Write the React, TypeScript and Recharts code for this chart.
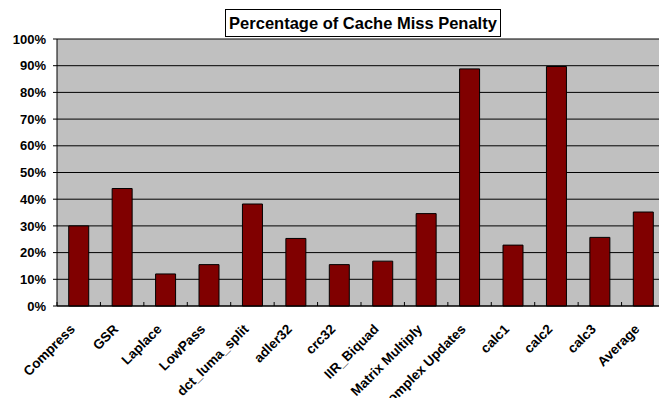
import { BarChart, Bar, XAxis, YAxis, CartesianGrid } from 'recharts'

const categories = [
    'Compress',
    'GSR',
    'Laplace',
    'LowPass',
    'dct_luma_split',
    'adler32',
    'crc32',
    'IIR_Biquad',
    'Matrix Multiply',
    'Complex Updates',
    'calc1',
    'calc2',
    'calc3',
    'Average'
]
const missPenalty = [0.3, 0.44, 0.12, 0.155, 0.382, 0.253, 0.155, 0.168, 0.346, 0.888, 0.228, 0.897, 0.257, 0.352]
const percentTicks = [0, 0.1, 0.2, 0.3, 0.4, 0.5, 0.6, 0.7, 0.8, 0.9, 1]
const chartTitle = 'Percentage of Cache Miss Penalty'

const FONT = '"Liberation Sans", Arial, sans-serif'

const chartData = categories.map((name, i) => ({ name, value: missPenalty[i] }))

// category label rotated 45deg, plus a short tick on the band boundary (pointing into the plot)
function CategoryTick(props: any) {
    const { x, y, payload, index, width, visibleTicksCount } = props
    const count = visibleTicksCount || categories.length
    const band = (width || 608) / count
    const left = x - band / 2
    const lx = x - 3
    const ly = y + 24
    return (
        <g>
            <line x1={left} y1={y - 4} x2={left} y2={y} stroke="#000" />
            {index === count - 1 && (
                <line x1={left + band} y1={y - 4} x2={left + band} y2={y} stroke="#000" />
            )}
            <text
                x={lx}
                y={ly}
                transform={`rotate(-45 ${lx} ${ly})`}
                textAnchor="end"
                fontFamily={FONT}
                fontWeight="bold"
                fontSize={13.5}
                fill="#000"
            >
                {payload.value}
            </text>
        </g>
    )
}

export default function App() {
    return (
        <div style={{ position: 'relative', width: 667, height: 406, background: '#fff', margin: -8 }}>
            <BarChart
                width={667}
                height={406}
                data={chartData}
                margin={{ top: 39, right: 2, left: 0, bottom: 0 }}
                barCategoryGap="27%"
            >
                <CartesianGrid vertical={false} stroke="#000" fill="#C0C0C0" />
                <XAxis
                    dataKey="name"
                    height={100}
                    interval={0}
                    tickLine={false}
                    tickSize={0}
                    tickMargin={0}
                    axisLine={{ stroke: '#000' }}
                    tick={<CategoryTick />}
                />
                <XAxis
                    xAxisId="frame"
                    orientation="top"
                    height={0}
                    tick={false}
                    tickLine={false}
                    axisLine={{ stroke: '#808080' }}
                />
                <YAxis
                    width={57}
                    domain={[0, 1]}
                    ticks={percentTicks}
                    interval={0}
                    tickFormatter={(v: number) => `${Math.round(v * 100)}%`}
                    tickSize={4}
                    tickMargin={7}
                    tickLine={{ stroke: '#000' }}
                    axisLine={{ stroke: '#000' }}
                    tick={{ fill: '#000', fontFamily: FONT, fontWeight: 'bold', fontSize: 13 }}
                />
                <YAxis
                    yAxisId="frame"
                    orientation="right"
                    width={0}
                    tick={false}
                    tickLine={false}
                    axisLine={{ stroke: '#808080' }}
                />
                <Bar dataKey="value" fill="#800000" stroke="#000" strokeWidth={1} isAnimationActive={false} />
            </BarChart>
            <div
                style={{
                    position: 'absolute',
                    left: 225,
                    top: 9,
                    width: 276,
                    height: 28,
                    boxSizing: 'border-box',
                    border: '1px solid #000',
                    background: '#fff',
                    fontFamily: FONT,
                    fontWeight: 'bold',
                    fontSize: 16.5,
                    lineHeight: '26px',
                    textAlign: 'center',
                    whiteSpace: 'nowrap',
                    color: '#000'
                }}
            >
                {chartTitle}
            </div>
        </div>
    )
}
